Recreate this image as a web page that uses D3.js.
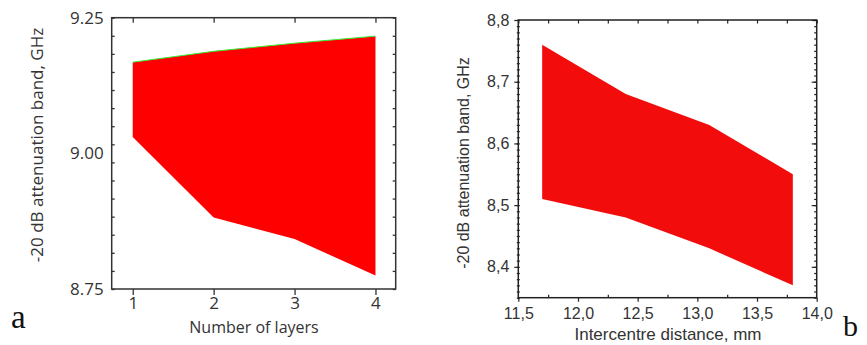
<!DOCTYPE html>
<html>
<head>
<meta charset="utf-8">
<script src="https://cdn.jsdelivr.net/npm/d3@7"></script>
<style>
  body { margin: 0; background: #fff; }
  svg { display: block; }
</style>
</head>
<body>
<svg id="chart" width="867" height="345"></svg>
<script>
// panel a: number of layers
const layers = [1, 2, 3, 4];
const layersUpper = [9.168, 9.188, 9.203, 9.216];
const layersLower = [9.030, 8.882, 8.842, 8.775];
const layersYTicks = ['8.75', '9.00', '9.25'];

// panel b: intercentre distance
const distance = [11.7, 12.4, 13.1, 13.8];
const distanceUpper = [8.76, 8.68, 8.63, 8.55];
const distanceLower = [8.51, 8.48, 8.43, 8.37];
const distanceXTicks = [11.5, 12.0, 12.5, 13.0, 13.5, 14.0];
const distanceYTicks = [8.4, 8.5, 8.6, 8.7, 8.8];

const svg = d3.select('#chart');
const comma = d => d3.format('.1f')(d).replace('.', ',');

// ---------- panel a ----------
{
  const m = {left: 111.7, top: 17.7, width: 284, height: 271.3};
  const g = svg.append('g').attr('transform', `translate(${m.left},${m.top})`);
  const x = d3.scaleLinear().domain([0.74, 4.25]).range([0, m.width]);
  const y = d3.scaleLinear().domain([8.75, 9.25]).range([m.height, 0]);
  const font = '"Open Sans", sans-serif';
  const ink = '#333';

  const pts = layers.map((d, i) => ({x: d, lo: layersLower[i], hi: layersUpper[i]}));
  g.append('path').datum(pts)
    .attr('fill', '#ff0000')
    .attr('d', d3.area().x(d => x(d.x)).y0(d => y(d.lo)).y1(d => y(d.hi)));
  g.append('path').datum(pts)
    .attr('fill', 'none').attr('stroke', '#33ee33').attr('stroke-width', 1)
    .attr('d', d3.line().x(d => x(d.x)).y(d => y(d.hi)));

  const minor = d3.range(16).map(k => 8.75 + k / 30);

  // left: small inward ticks, labels at majors
  g.append('g').call(d3.axisRight(y).tickValues(minor).tickSize(3).tickFormat(''));
  g.append('g').call(d3.axisLeft(y).tickValues(layersYTicks.map(Number)).tickSize(0).tickPadding(8)
    .tickFormat(d => layersYTicks.find(t => +t === d)));
  // right
  g.append('g').attr('transform', `translate(${m.width},0)`)
    .call(d3.axisLeft(y).tickValues(minor).tickSize(3).tickFormat(''));
  // top
  g.append('g').call(d3.axisBottom(x).tickValues(layers).tickSize(5).tickFormat(''));
  // bottom
  g.append('g').attr('transform', `translate(0,${m.height})`)
    .call(d3.axisBottom(x).tickValues(layers).tickSize(6).tickPadding(2).tickFormat(d3.format('d')));

  g.selectAll('.domain').remove();
  g.selectAll('.tick line').attr('stroke', ink).attr('stroke-width', 1.3);
  g.selectAll('.tick text').attr('fill', ink).style('font-family', font).style('font-size', '17px');
  g.append('rect').attr('width', m.width).attr('height', m.height)
    .attr('fill', 'none').attr('stroke', ink).attr('stroke-width', 1.5);

  svg.append('text').attr('transform', 'translate(43,145) rotate(-90)')
    .attr('text-anchor', 'middle').attr('fill', ink)
    .style('font-family', font).style('font-size', '17px')
    .text('-20 dB attenuation band, GHz');
  svg.append('text').attr('x', 254).attr('y', 333)
    .attr('text-anchor', 'middle').attr('fill', ink)
    .style('font-family', font).style('font-size', '16px')
    .text('Number of layers');
  svg.append('text').attr('x', 11).attr('y', 328)
    .attr('fill', '#111')
    .style('font-family', '"Liberation Serif", serif').style('font-size', '33px')
    .text('a');
}

// ---------- panel b ----------
{
  const m = {left: 518.3, top: 20, width: 298.4, height: 277.7};
  const g = svg.append('g').attr('transform', `translate(${m.left},${m.top})`);
  const x = d3.scaleLinear().domain([11.5, 14]).range([0, m.width]);
  const y = d3.scaleLinear().domain([8.35, 8.8]).range([m.height, 0]);
  const font = '"Liberation Sans", Arial, sans-serif';
  const ink = '#333';

  const pts = distance.map((d, i) => ({x: d, lo: distanceLower[i], hi: distanceUpper[i]}));
  g.append('path').datum(pts)
    .attr('fill', '#f20c0c')
    .attr('d', d3.area().x(d => x(d.x)).y0(d => y(d.lo)).y1(d => y(d.hi)));

  const yMinor = d3.range(8.35, 8.8001, 0.01).map(v => +v.toFixed(2));
  const xMinor = d3.range(11.5, 14.001, 0.25).map(v => +v.toFixed(2));
  const xHalf = xMinor.filter(v => !distanceXTicks.includes(v));

  // left
  g.append('g').attr('transform', 'translate(-1.5,0)')
    .call(d3.axisRight(y).tickValues(yMinor).tickSize(3).tickFormat(''));
  g.append('g').call(d3.axisLeft(y).tickValues(distanceYTicks).tickSize(4).tickPadding(5).tickFormat(comma));
  // right
  g.append('g').attr('transform', `translate(${m.width},0)`)
    .call(d3.axisLeft(y).tickValues(yMinor).tickSize(2.5).tickFormat(''));
  g.append('g').attr('transform', `translate(${m.width},0)`)
    .call(d3.axisLeft(y).tickValues(distanceYTicks).tickSize(5).tickFormat(''));
  // top
  g.append('g').call(d3.axisBottom(x).tickValues(xMinor).tickSize(3.5).tickFormat(''));
  // bottom
  g.append('g').attr('transform', `translate(0,${m.height})`)
    .call(d3.axisBottom(x).tickValues(distanceXTicks).tickSize(4).tickPadding(6).tickFormat(comma));
  g.append('g').attr('transform', `translate(0,${m.height})`)
    .call(d3.axisTop(x).tickValues(xHalf).tickSize(3).tickFormat(''));

  g.selectAll('.domain').remove();
  g.selectAll('.tick line').attr('stroke', '#222').attr('stroke-width', 1.2);
  g.selectAll('.tick text').attr('fill', ink).style('font-family', font).style('font-size', '16px');
  g.append('rect').attr('width', m.width).attr('height', m.height)
    .attr('fill', 'none').attr('stroke', '#222').attr('stroke-width', 1.5);

  svg.append('text').attr('transform', 'translate(469,163) rotate(-90)')
    .attr('text-anchor', 'middle').attr('fill', ink)
    .style('font-family', font).style('font-size', '16px')
    .text('-20 dB attenuation band, GHz');
  svg.append('text').attr('x', 668).attr('y', 340)
    .attr('text-anchor', 'middle').attr('fill', ink)
    .style('font-family', font).style('font-size', '17px')
    .text('Intercentre distance, mm');
  svg.append('text').attr('x', 843).attr('y', 336)
    .attr('fill', '#111')
    .style('font-family', '"Liberation Serif", serif').style('font-size', '30px')
    .text('b');
}
</script>
</body>
</html>
